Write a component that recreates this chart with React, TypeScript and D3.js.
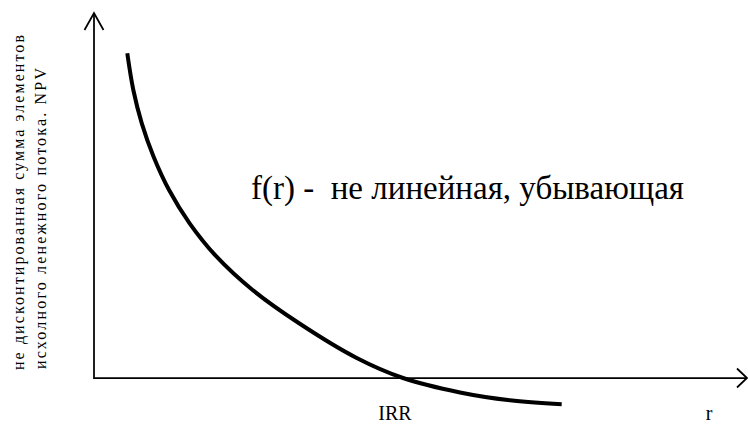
import React from "react";
import * as d3 from "d3";

// Discount rate r (arbitrary units along the horizontal axis)
const rates = [5.12, 6.05, 7.35, 9.17, 11.55, 14.71, 18.86, 24.4, 31.55, 40.42, 47.54, 56.31, 64.0, 71.95];
// Net present value at each rate
const npvValues = [88.96, 78.9, 69.78, 60.63, 51.5, 42.38, 33.23, 24.11, 14.99, 5.48, 0, -3.95, -6.1, -7.2];
const irrRate = 47.54;

const yLabelLines = [
  "не дисконтированная сумма элементов",
  "исхолного ленежного потока. NPV",
];
const curveLabel = "f(r) -  не линейная, убывающая";
const irrLabel = "IRR";
const rLabel = "r";

const W = 748;
const H = 424;

export default function App() {
  const x = d3.scaleLinear().domain([0, 100]).range([94, 744]);
  const y = d3.scaleLinear().domain([0, 100]).range([378, 13]);

  const pts: [number, number][] = rates.map((r, i) => [r, npvValues[i]]);
  const line = d3
    .line<[number, number]>()
    .x((d) => x(d[0]))
    .y((d) => y(d[1]))
    .curve(d3.curveCatmullRom.alpha(0.5));

  const x0 = x(0);
  const y0 = y(0);
  const yTop = 13;
  const xEnd = 747;

  return (
    <svg
      width={W}
      height={H}
      style={{ position: "absolute", left: 0, top: 0, background: "#fff" }}
    >
      <style>{`.lbl { font-family: 'Liberation Serif', serif; white-space: pre; fill: #000; }`}</style>

      {/* axes */}
      <g stroke="#000" strokeWidth={1.75} fill="none">
        <line x1={x0} y1={y0 + 1} x2={x0} y2={yTop} />
        <polyline points={`${x0 - 9.5},${yTop + 17} ${x0},${yTop} ${x0 + 9.5},${yTop + 17}`} />
        <line x1={x0} y1={y0} x2={xEnd} y2={y0} />
        <polyline points={`${xEnd - 10},${y0 - 9.5} ${xEnd},${y0} ${xEnd - 10},${y0 + 9.5}`} />
      </g>

      {/* NPV curve */}
      <path d={line(pts) ?? ""} fill="none" stroke="#000" strokeWidth={4} />

      {/* annotations */}
      <text className="lbl" x={251} y={199} fontSize={33}>
        {curveLabel}
      </text>
      <text className="lbl" x={x(irrRate) - 8} y={420} fontSize={20} textAnchor="middle">
        {irrLabel}
      </text>
      <text className="lbl" x={709} y={420} fontSize={20} textAnchor="middle">
        {rLabel}
      </text>

      {/* vertical axis title */}
      <text
        className="lbl"
        transform="translate(24,370) rotate(-90)"
        fontSize={16}
        textLength={335}
        lengthAdjust="spacing"
      >
        {yLabelLines[0]}
      </text>
      <text
        className="lbl"
        transform="translate(46,369) rotate(-90)"
        fontSize={16}
        textLength={301}
        lengthAdjust="spacing"
      >
        {yLabelLines[1]}
      </text>
    </svg>
  );
}
